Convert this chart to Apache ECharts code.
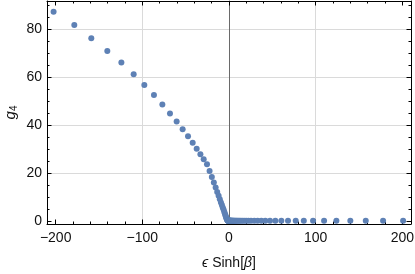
<!DOCTYPE html>
<html><head><meta charset="utf-8">
<script src="https://cdn.jsdelivr.net/npm/echarts@6/dist/echarts.min.js"></script>
<style>html,body{margin:0;padding:0;background:#fff}#c{width:415px;height:274px}</style>
</head><body><div id="c"></div>
<script>
// ---- data ----
const xNeg = [-202.4, -178.5, -158.9, -140.4, -124.2, -110.0, -97.7, -86.6, -76.9, -68.1, -60.4, -53.5, -47.3, -41.9, -37.3, -33.0, -29.2, -25.4,
  -22.4, -19.8, -17.5, -15.4, -13.6, -12.0, -10.6, -9.3, -8.2, -7.2, -6.3, -5.5, -4.8, -4.2, -3.7, -3.2, -2.8, -2.4, -2.1, -1.8, -1.55, -1.3, -1.1, -0.9, -0.75, -0.6, -0.45, -0.3, -0.15, 0];
const g4Neg = [87.3, 81.8, 76.3, 71.0, 66.2, 61.3, 56.8, 52.6, 48.7, 44.9, 41.6, 38.4, 35.5, 32.8, 30.3, 28.0, 25.9, 23.8,
  21.0, 18.5, 16.2, 14.1, 12.2, 10.7, 9.2, 7.9, 6.8, 5.8, 4.9, 4.0, 3.3, 2.6, 2.0, 1.6, 1.2, 0.9, 0.7, 0.5, 0.4, 0.35, 0.3, 0.3, 0.3, 0.3, 0.3, 0.3, 0.3, 0.3];
const xPos = [0.15, 0.3, 0.45, 0.6, 0.75, 0.9, 1.1, 1.3, 1.55, 1.8, 2.1, 2.4, 2.8, 3.2, 3.7, 4.2, 4.8, 5.5, 6.3, 7.2, 8.2, 9.3, 10.6, 12.0, 13.6, 15.4, 17.5, 19.8, 22.4,
  25.4, 29.2, 33.0, 37.3, 41.9, 47.3, 53.5, 60.4, 68.1, 77.0, 86.3, 97.0, 109.7, 123.9, 140.0, 157.8, 177.8, 200.9];
const g4Pos = [0.3, 0.3, 0.3, 0.3, 0.3, 0.3, 0.3, 0.3, 0.3, 0.3, 0.3, 0.3, 0.3, 0.3, 0.3, 0.3, 0.3, 0.3, 0.3, 0.3, 0.3, 0.3, 0.3, 0.3, 0.3, 0.3, 0.3, 0.3, 0.3,
  0.3, 0.3, 0.3, 0.3, 0.3, 0.3, 0.3, 0.3, 0.3, 0.3, 0.3, 0.3, 0.3, 0.3, 0.3, 0.3, 0.3, 0.3];
const xTicks = [-200, -100, 0, 100, 200];   // labelled x ticks
const xMinorPerMajor = 5;                    // minor ticks every 20
const yTicks = [0, 20, 40, 60, 80];          // labelled y ticks
const yMinorPerMajor = 4;                    // minor ticks every 5
const xGrid = [-100, 100];
const yGrid = [20, 40, 60, 80];
const xRange = [-210, 210];
const yRange = [-1.1, 91.8];
const xTitle = '{i|\u03f5} Sinh[{i|\u03b2}]';
const yTitle = '{g|g}{s|4}';

// ---- layout ----
const W = 415, H = 274;
const P = { left: 47, right: 4, top: 1, bottom: 50 };
const sx = (W - P.left - P.right) / (xRange[1] - xRange[0]);
const sy = (H - P.top - P.bottom) / (yRange[1] - yRange[0]);
const G = o => Object.assign({ containLabel: false, outerBoundsMode: 'none' }, o);
const gridX = (a, b) => G({ left: P.left + (a - xRange[0]) * sx, right: P.right + (xRange[1] - b) * sx, top: P.top, bottom: P.bottom });
const gridY = (a, b) => G({ left: P.left, right: P.right, top: P.top + (yRange[1] - b) * sy, bottom: P.bottom + (a - yRange[0]) * sy });

const FONT = 'Liberation Sans';
const TXT = '#111';
const minus = v => String(v).replace('-', '\u2212');
const xStep = xTicks[1] - xTicks[0];
const yStep = yTicks[1] - yTicks[0];
const yTickMax = yTicks[yTicks.length - 1] + yStep;

const hidden = (gi, r) => ({ type: 'value', gridIndex: gi, min: r[0], max: r[1], show: false });
const frame = (gi, pos, r, extra) => Object.assign({
  type: 'value', gridIndex: gi, position: pos, min: r[0], max: r[1],
  axisLine: { show: true, onZero: false, lineStyle: { color: '#000', width: 1 } },
  axisTick: { show: false }, axisLabel: { show: false }, splitLine: { show: false }, minorTick: { show: false }
}, extra || {});
const ticks = (gi, pos, min, max, step, nMinor, label) => ({
  type: 'value', gridIndex: gi, position: pos, min: min, max: max, interval: step,
  axisLine: { show: false, onZero: false },
  axisTick: { show: true, inside: true, length: 4.5, lineStyle: { color: '#000', width: 1 } },
  minorTick: { show: true, splitNumber: nMinor, length: 2.5, lineStyle: { color: '#000', width: 1 } },
  axisLabel: label ? Object.assign({ show: true, formatter: minus, color: TXT, fontSize: 14, fontFamily: FONT, showMaxLabel: pos === 'bottom' }, label) : { show: false },
  splitLine: { show: false }
});

const pts = xNeg.map((x, i) => [x, g4Neg[i]]).concat(xPos.map((x, i) => [x, g4Pos[i]]));
const chart = echarts.init(document.getElementById('c'), null, { renderer: 'canvas' });
chart.setOption({
  animation: false,
  backgroundColor: '#fff',
  grid: [
    G(Object.assign({}, P)),                                    // 0 main plot
    gridX(xGrid[0], xGrid[xGrid.length - 1]),                   // 1 vertical grid lines
    gridY(yGrid[0], yGrid[yGrid.length - 1]),                   // 2 horizontal grid lines
    gridX(xTicks[0], xTicks[xTicks.length - 1]),                // 3 x ticks
    gridY(yTicks[0], yTickMax)                                  // 4 y ticks
  ],
  xAxis: [
    frame(0, 'bottom', xRange),
    frame(0, 'top', xRange),
    { type: 'value', gridIndex: 1, min: xGrid[0], max: xGrid[xGrid.length - 1], interval: xGrid[1] - xGrid[0],
      axisLine: { show: false }, axisTick: { show: false }, axisLabel: { show: false },
      splitLine: { show: true, lineStyle: { color: '#dadada', width: 1 } } },
    hidden(2, xRange),
    Object.assign(ticks(3, 'bottom', xTicks[0], xTicks[xTicks.length - 1], xStep, xMinorPerMajor, { margin: 7 }), {
      name: xTitle, nameLocation: 'middle', nameGap: 32,
      nameTextStyle: { color: TXT, fontSize: 14, fontFamily: FONT, rich: { i: { fontStyle: 'italic', fontSize: 14, fontFamily: FONT, color: TXT } } }
    }),
    ticks(3, 'top', xTicks[0], xTicks[xTicks.length - 1], xStep, xMinorPerMajor, null),
    hidden(4, xRange)
  ],
  yAxis: [
    { type: 'value', gridIndex: 0, position: 'left', min: yRange[0], max: yRange[1],
      axisLine: { show: true, onZero: true, lineStyle: { color: '#6a6a6a', width: 1 } },
      axisTick: { show: false }, axisLabel: { show: false }, splitLine: { show: false } },
    frame(0, 'left', yRange, {
      name: yTitle, nameLocation: 'middle', nameGap: 27, nameRotate: 90,
      nameTextStyle: { color: TXT, rich: {
        g: { fontStyle: 'italic', fontSize: 15, fontFamily: FONT, color: TXT, lineHeight: 18 },
        s: { fontSize: 10, fontFamily: FONT, color: TXT, padding: [7, 0, 0, 0], lineHeight: 18 } } }
    }),
    frame(0, 'right', yRange),
    hidden(1, yRange),
    { type: 'value', gridIndex: 2, min: yGrid[0], max: yGrid[yGrid.length - 1], interval: yGrid[1] - yGrid[0],
      axisLine: { show: false }, axisTick: { show: false }, axisLabel: { show: false },
      splitLine: { show: true, lineStyle: { color: '#dadada', width: 1 } } },
    hidden(3, yRange),
    ticks(4, 'left', yTicks[0], yTickMax, yStep, yMinorPerMajor, { margin: 5 }),
    ticks(4, 'right', yTicks[0], yTickMax, yStep, yMinorPerMajor, null)
  ],
  series: [
    { type: 'scatter', xAxisIndex: 0, yAxisIndex: 1, data: pts, z: 3, symbol: 'circle', symbolSize: 6,
      itemStyle: { color: '#5e81b5', opacity: 1 } }
  ]
});
</script></body></html>
